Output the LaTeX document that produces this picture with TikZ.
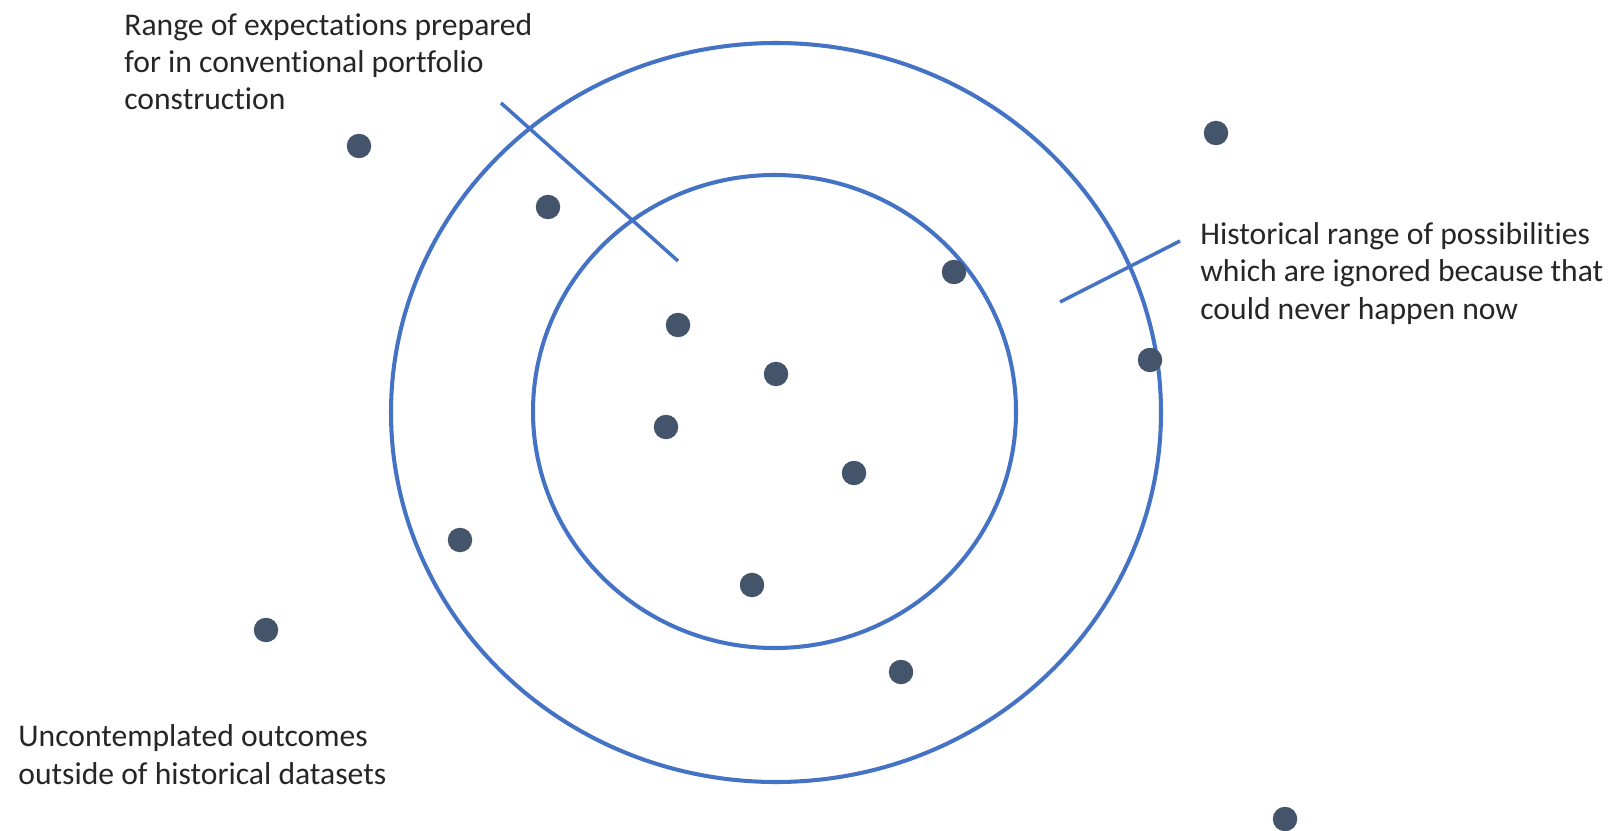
\documentclass[tikz,border=0pt]{standalone}
\usepackage{fontspec}
\setmainfont{Carlito}[Ligatures=NoCommon]
\usepackage{tikz}
\definecolor{ringblue}{HTML}{4472C4}
\definecolor{dotgrey}{HTML}{44546A}

\begin{document}
\begin{tikzpicture}[x=0.02cm,y=-0.02cm]
	\tikzset{ring/.style={draw=ringblue,line width=2.3pt}}
	\tikzset{leader/.style={draw=ringblue,line width=2pt}}
	\tikzset{dot/.style={circle,fill=dotgrey,inner sep=0pt,minimum size=0.49cm}}
	\tikzset{note/.style={align=left,anchor=base west,inner sep=0pt,text=black!85,font=\fontsize{18}{21.3}\selectfont}}
	\useasboundingbox (0,0) rectangle (1608,831);
	% historical range and conventional range
	\draw[ring] (776,412.5) ellipse [x radius=385,y radius=369.5];
	\draw[ring] (774.5,411.5) ellipse [x radius=241.5,y radius=236.5];
	% outcomes
	\foreach \n/\x/\y in {1/359/146,2/548/207,3/1216/133,4/954/272,5/678/325,6/776/374,7/1150/360,
		8/666/427,9/854/473,10/460/540,11/752/585,12/266/630,13/901/672,14/1285/819}
		\node[dot] (d\n) at (\x,\y) {};
	% labels (anchored at the baseline of the last line)
	\node[note] (conv) at (124,110) {Range of expectations prepared\\for in conventional portfolio\\construction};
	\node[note] (hist) at (1200,319) {Historical range of possibilities\\which are ignored because that\\could never happen now};
	\node[note] (unc) at (18,784) {Uncontemplated outcomes\\outside of historical datasets};
	\coordinate (convA) at (501,103);
	\coordinate (convB) at (678,261);
	\coordinate (histA) at (1060,302);
	\coordinate (histB) at (1180,241);
	\draw[leader] (convA) -- (convB);
	\draw[leader] (histA) -- (histB);
\end{tikzpicture}
\end{document}
